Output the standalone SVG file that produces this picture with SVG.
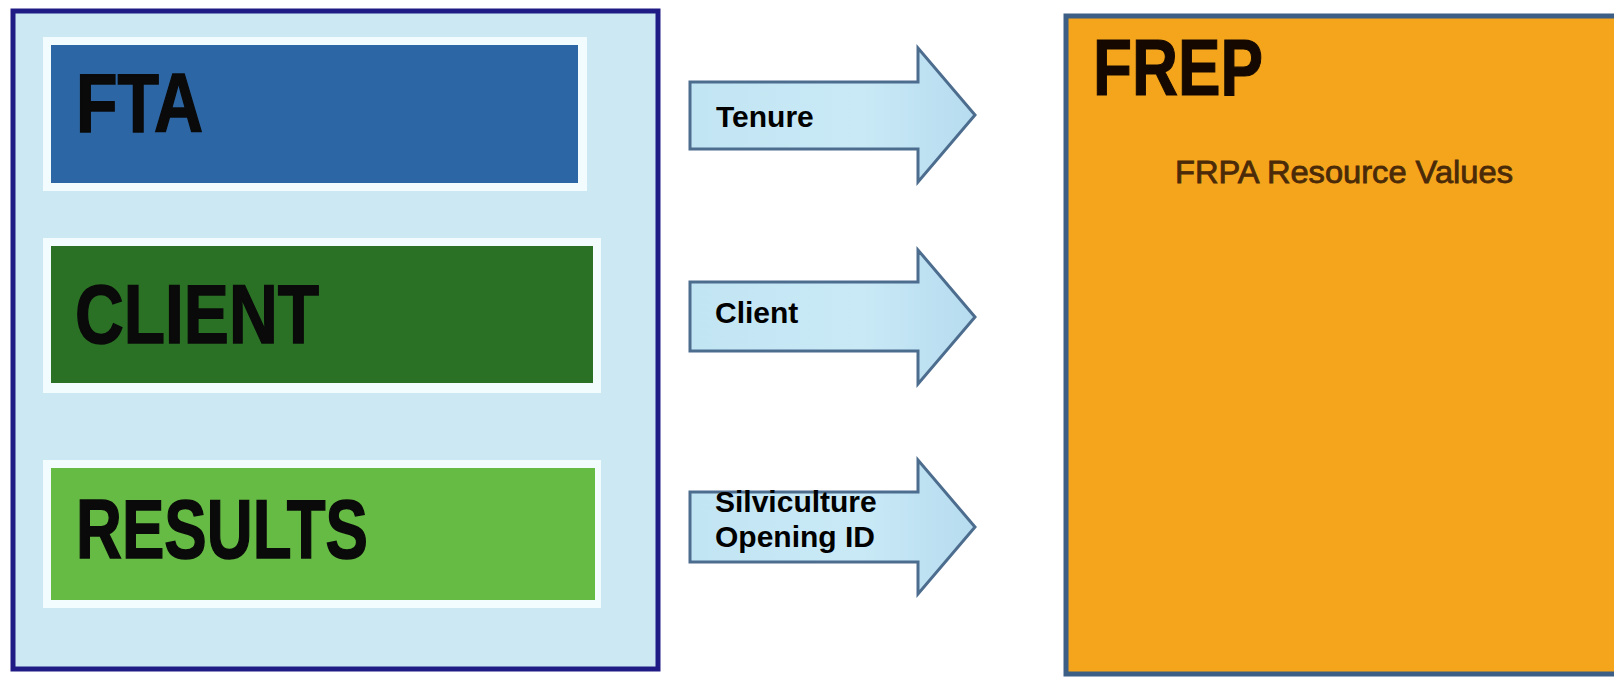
<svg xmlns="http://www.w3.org/2000/svg" width="1614" height="678" viewBox="0 0 1614 678">
  <defs>
    <linearGradient id="arrowFill" x1="0" y1="0" x2="1" y2="0">
      <stop offset="0" stop-color="#c2e5f3"/>
      <stop offset="0.6" stop-color="#c9e9f6"/>
      <stop offset="1" stop-color="#b6dcef"/>
    </linearGradient>
  </defs>
  <style>
    .bigLabel { font-family: "Liberation Sans", Arial, sans-serif; font-weight: bold; font-size: 83px; fill: #0a0a0a; stroke: #0a0a0a; stroke-width: 1.5; }
    .arrowLabel { font-family: "Liberation Sans", Arial, sans-serif; font-weight: bold; font-size: 30px; fill: #000000; }
    .arrow { fill: url(#arrowFill); stroke: #4d6d8f; stroke-width: 3; stroke-linejoin: miter; }
    .frame { fill: #f2fbfd; }
  </style>
  <rect width="1614" height="678" fill="#ffffff"/>

  <g id="sources">
    <rect x="13" y="11" width="645" height="658" fill="#cce9f3" stroke="#201c86" stroke-width="5"/>
    <g id="fta">
      <rect class="frame" x="43" y="37" width="544" height="154"/>
      <rect x="51" y="45" width="527" height="138" fill="#2d66a4"/>
      <text class="bigLabel" x="76" y="132" textLength="127" lengthAdjust="spacingAndGlyphs">FTA</text>
    </g>
    <g id="client">
      <rect class="frame" x="43" y="238" width="558" height="155"/>
      <rect x="51" y="246" width="542" height="137" fill="#2a7125"/>
      <text class="bigLabel" x="75" y="343" textLength="244" lengthAdjust="spacingAndGlyphs">CLIENT</text>
    </g>
    <g id="results">
      <rect class="frame" x="43" y="460" width="558" height="148"/>
      <rect x="51" y="468" width="544" height="132" fill="#66bb44"/>
      <text class="bigLabel" x="76" y="558" textLength="292" lengthAdjust="spacingAndGlyphs">RESULTS</text>
    </g>
  </g>

  <g id="frep">
    <rect x="1066" y="16" width="560" height="658" fill="#f5a51c" stroke="#3d5f85" stroke-width="5"/>
    <text x="1093" y="95" font-family="Liberation Sans, Arial, sans-serif" font-weight="bold" font-size="80" fill="#140800" stroke="#140800" stroke-width="1.2" textLength="170" lengthAdjust="spacingAndGlyphs">FREP</text>
    <text x="1175" y="183" font-family="Liberation Sans, Arial, sans-serif" font-size="31" fill="#4a2a08" stroke="#4a2a08" stroke-width="0.8" textLength="338" lengthAdjust="spacingAndGlyphs">FRPA Resource Values</text>
  </g>

  <g id="connectors">
    <g id="arrow-tenure">
      <path class="arrow" d="M690,82 H918 V48 L975,115 L918,182 V149 H690 Z"/>
      <text class="arrowLabel" x="716" y="127">Tenure</text>
    </g>
    <g id="arrow-client">
      <path class="arrow" d="M690,282 H918 V250 L975,317 L918,384 V351 H690 Z"/>
      <text class="arrowLabel" x="715" y="323" font-size="31">Client</text>
    </g>
    <g id="arrow-silviculture">
      <path class="arrow" d="M690,492 H918 V460 L975,527 L918,594 V562 H690 Z"/>
      <text class="arrowLabel" x="715" y="512" font-size="29">Silviculture</text>
      <text class="arrowLabel" x="715" y="547" font-size="29">Opening ID</text>
    </g>
  </g>
</svg>
